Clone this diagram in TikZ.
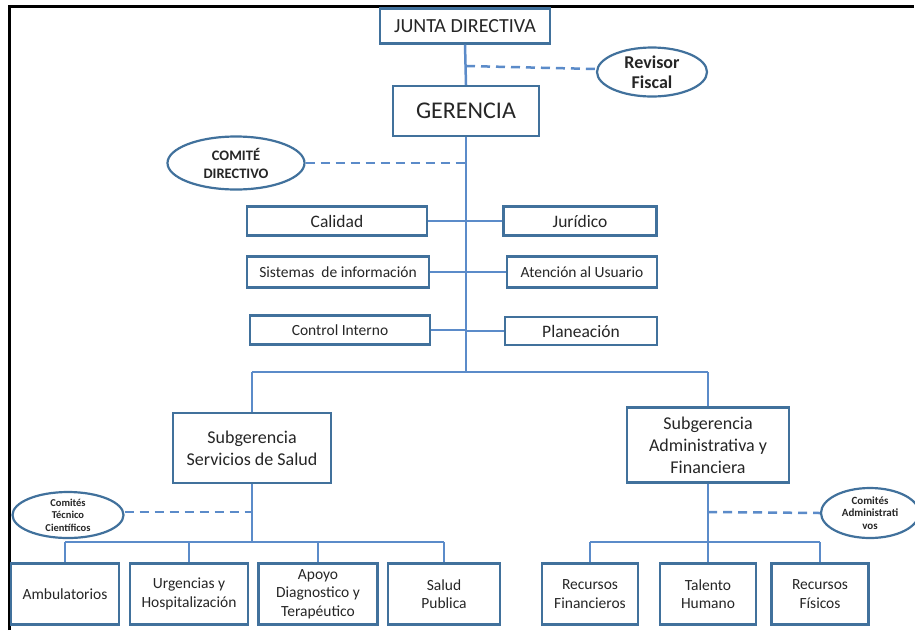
\documentclass[tikz,border=0pt]{standalone}
\usepackage{fontspec}
\setmainfont{Carlito}
\usetikzlibrary{shapes.geometric}
\definecolor{boxblue}{HTML}{41719C}
\definecolor{lineblue}{HTML}{5B8BC9}
\definecolor{txt}{HTML}{262626}
\tikzset{
  box/.style={draw=boxblue, line width=2.2pt, fill=white, text=txt, inner sep=0pt, align=center, font=\fontsize{15.5}{18.5}\selectfont},
  oval/.style={ellipse, draw=boxblue, line width=2.2pt, fill=white, text=txt, inner sep=0pt, align=center},
  conn/.style={lineblue, line width=2.5pt},
  dashconn/.style={lineblue, line width=2.5pt, dash pattern=on 9pt off 6pt},
  frame/.style={black, line width=3pt},
}
\begin{document}
\begin{tikzpicture}[x=1pt,y=-1pt]
\useasboundingbox (0,0) rectangle (915,630);
\draw[frame] (9,630) -- (9,6) -- (914,6);

% top
\node[box, minimum width=170pt, minimum height=35pt, font=\fontsize{20}{24}\selectfont] (jd) at (465,26) {JUNTA DIRECTIVA};
\node[box, minimum width=146pt, minimum height=50pt, font=\fontsize{24}{28}\selectfont] (ger) at (466,111) {GERENCIA};
\node[oval, minimum width=110pt, minimum height=49pt, font=\bfseries\fontsize{18}{20}\selectfont] (rev) at (652,72) {Revisor\\Fiscal};
\node[oval, minimum width=137pt, minimum height=53pt, font=\bfseries\fontsize{14.5}{18}\selectfont] (cd) at (236,163) {COMITÉ\\DIRECTIVO};

% staff boxes
\node[box, minimum width=180pt, minimum height=29pt, font=\fontsize{17.5}{20}\selectfont] (cal) at (337,221) {Calidad};
\node[box, minimum width=153pt, minimum height=29pt, font=\fontsize{17.5}{20}\selectfont] (jur) at (580,221) {Jurídico};
\node[box, minimum width=182pt, minimum height=31pt] (sis) at (338,272) {Sistemas~ de información};
\node[box, minimum width=150pt, minimum height=31pt] (ate) at (582,272) {Atención al Usuario};
\node[box, minimum width=180pt, minimum height=29pt] (ci) at (340,330) {Control Interno};
\node[box, minimum width=152pt, minimum height=28pt, font=\fontsize{17.5}{20}\selectfont] (pla) at (581,331) {Planeación};

% subgerencias
\node[box, minimum width=158pt, minimum height=70pt, font=\fontsize{18}{22}\selectfont] (ss) at (252,448) {Subgerencia\\Servicios de Salud};
\node[box, minimum width=162pt, minimum height=75pt, font=\fontsize{18}{22}\selectfont] (sa) at (708,445) {Subgerencia\\Administrativa y\\Financiera};

\node[oval, minimum width=111pt, minimum height=46pt, font=\bfseries\fontsize{10.5}{12.5}\selectfont] (ctc) at (68,515) {Comités\\Técnico\\Científicos};
\node[oval, minimum width=98pt, minimum height=50pt, font=\bfseries\fontsize{11}{12.5}\selectfont] (cad) at (870,513) {Comités\\Administrati\\vos};

% bottom boxes
\node[box, minimum width=108pt, minimum height=61pt] (amb) at (65,594) {Ambulatorios};
\node[box, minimum width=118pt, minimum height=61pt] (urg) at (189,594) {Urgencias y\\Hospitalización};
\node[box, minimum width=119pt, minimum height=61pt] (apo) at (318,594) {Apoyo\\Diagnostico y\\Terapéutico};
\node[box, minimum width=112pt, minimum height=61pt] (sal) at (444,594) {Salud\\Publica};
\node[box, minimum width=96pt, minimum height=61pt] (rf) at (590,594) {Recursos\\Financieros};
\node[box, minimum width=96pt, minimum height=61pt] (th) at (708,594) {Talento\\Humano};
\node[box, minimum width=97pt, minimum height=61pt] (rfi) at (820,594) {Recursos\\Físicos};

% junctions
\coordinate (revj) at (466,66);
\coordinate (cdj) at (466,163);
\coordinate (busT) at (466,372);
\coordinate (busL) at (252,372);
\coordinate (busR) at (708,372);
\coordinate (lj) at (252,542);
\coordinate (rj) at (708,542);

% connectors
\draw[conn] (jd.south) -- (ger.north);
\draw[conn] (ger.south) -- (busT);
\draw[dashconn] (revj) -- ([yshift=3pt]rev.west);
\draw[dashconn] (cd.east) -- (cdj);
\draw[conn] (cal.east) -- (cal.east -| busT);
\draw[conn] (jur.west) -- (jur.west -| busT);
\draw[conn] (sis.east) -- (sis.east -| busT);
\draw[conn] (ate.west) -- (ate.west -| busT);
\draw[conn] (ci.east) -- (ci.east -| busT);
\draw[conn] (pla.west) -- (pla.west -| busT);
\draw[conn] (busL) -- (busR);
\draw[conn] (busL) -- (ss.north);
\draw[conn] (busR) -- (sa.north);

\draw[conn] (ss.south) -- (lj);
\draw[dashconn] (ctc.east |- 0,512) -- (252,512);
\draw[conn] (amb.north |- lj) -- (sal.north |- lj);
\foreach \n in {amb,urg,apo,sal} \draw[conn] (\n.north |- lj) -- (\n.north);

\draw[conn] (sa.south) -- (rj);
\draw[dashconn] (708,512) -- (cad.west);
\draw[conn] (rf.north |- rj) -- (rfi.north |- rj);
\foreach \n in {rf,th,rfi} \draw[conn] (\n.north |- rj) -- (\n.north);
\end{tikzpicture}
\end{document}
